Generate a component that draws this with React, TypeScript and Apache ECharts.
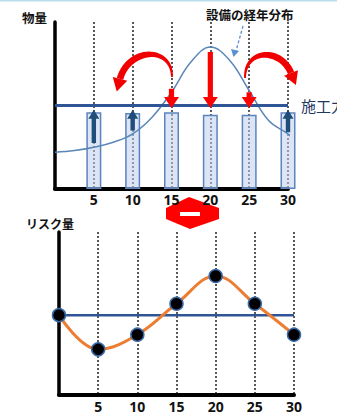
import React, { useEffect, useRef } from 'react';
import * as echarts from 'echarts';

// ---- data ----
const tickValues = [5, 10, 15, 20, 25, 30];
const barX = [5, 10, 15, 20, 25, 30];
const barValues = [46, 45.5, 46, 44.5, 44.5, 46];
const capacity = 50;
const curveX = [0, 2.5, 5, 7.5, 10, 12.5, 15, 17.5, 20, 22.5, 25, 27.5, 30, 30.8];
const curveY = [22, 23, 25, 28, 33, 43, 58, 76, 85, 77, 59, 41, 33, 29];
const upArrowX = [5, 10, 30];
const upArrowFrom = [27.5, 35, 34];
const upArrowTo = [47.5, 47.5, 47.5];
const downArrowX = [15, 20, 25];
const downArrowFrom = [60, 82, 58];
const downArrowTo = [48.5, 48.5, 48.5];
// shift arcs: start, ctrl1, ctrl2, end (data units of upper chart)
const shiftArcs = [
  [15.06, 67.1, 15.06, 86.2, 9.4, 84.4, 8.37, 65.9],
  [24.46, 66.5, 24.46, 84.4, 29.1, 84.4, 30.39, 69.5],
];
const riskX = [0, 5, 10, 15, 20, 25, 30];
const riskValues = [49, 28, 37, 56, 73, 56, 37];
const riskBase = 49;

const JP = '"Noto Sans CJK JP", "Noto Sans", sans-serif';
const NUM = '"Noto Sans", "DejaVu Sans", sans-serif';

function arrowItem(color: string, stemHalf: number, headHalf: number, headLen: number) {
  return (params: any, api: any) => {
    const x = api.value(0);
    const p0 = api.coord([x, api.value(1)]);
    const p1 = api.coord([x, api.value(2)]);
    const dir = p1[1] > p0[1] ? 1 : -1;
    const cx = p0[0];
    const baseY = p1[1] - dir * headLen;
    return {
      type: 'polygon',
      shape: {
        points: [
          [cx - stemHalf, p0[1]],
          [cx + stemHalf, p0[1]],
          [cx + stemHalf, baseY],
          [cx + headHalf, baseY],
          [cx, p1[1]],
          [cx - headHalf, baseY],
          [cx - stemHalf, baseY],
        ],
      },
      style: { fill: color },
    };
  };
}

function arcItem(params: any, api: any) {
  const S = api.coord([api.value(0), api.value(1)]);
  const C1 = api.coord([api.value(2), api.value(3)]);
  const C2 = api.coord([api.value(4), api.value(5)]);
  const E = api.coord([api.value(6), api.value(7)]);
  const n = 30;
  const left: number[][] = [];
  const right: number[][] = [];
  for (let i = 0; i <= n; i++) {
    const t = i / n;
    const a = (1 - t) * (1 - t) * (1 - t);
    const b = 3 * (1 - t) * (1 - t) * t;
    const c = 3 * (1 - t) * t * t;
    const d = t * t * t;
    const px = a * S[0] + b * C1[0] + c * C2[0] + d * E[0];
    const py = a * S[1] + b * C1[1] + c * C2[1] + d * E[1];
    const dx = 3 * (1 - t) * (1 - t) * (C1[0] - S[0]) + 6 * (1 - t) * t * (C2[0] - C1[0]) + 3 * t * t * (E[0] - C2[0]);
    const dy = 3 * (1 - t) * (1 - t) * (C1[1] - S[1]) + 6 * (1 - t) * t * (C2[1] - C1[1]) + 3 * t * t * (E[1] - C2[1]);
    const len = Math.sqrt(dx * dx + dy * dy) || 1;
    const nx = -dy / len;
    const ny = dx / len;
    const w = 0.9 + 2.4 * Math.min(1, t * 1.6);
    left.push([px + nx * w, py + ny * w]);
    right.push([px - nx * w, py - ny * w]);
  }
  const ddx = E[0] - C2[0];
  const ddy = E[1] - C2[1];
  const dl = Math.sqrt(ddx * ddx + ddy * ddy) || 1;
  const ux = ddx / dl;
  const uy = ddy / dl;
  const hx = -uy;
  const hy = ux;
  const head = [
    [E[0] + hx * 7.5, E[1] + hy * 7.5],
    [E[0] + ux * 13, E[1] + uy * 13],
    [E[0] - hx * 7.5, E[1] - hy * 7.5],
  ];
  return {
    type: 'group',
    children: [
      { type: 'polygon', shape: { points: left.concat(right.reverse()) }, style: { fill: '#f00000' } },
      { type: 'polygon', shape: { points: head }, style: { fill: '#f00000' } },
    ],
  };
}

export default function App() {
  const ref = useRef<HTMLDivElement>(null);
  useEffect(() => {
    if (!ref.current) return;
    const chart = echarts.init(ref.current, undefined, { renderer: 'svg' });
    const xAxisBase = (gridIndex: number, margin: number) => ({
      gridIndex,
      type: 'value',
      min: 0,
      max: 30,
      interval: 5,
      axisLine: { show: true, onZero: false, lineStyle: { color: '#000', width: 4 } },
      axisTick: { show: false },
      axisLabel: {
        margin,
        color: '#111',
        fontSize: 14,
        fontWeight: 'bold',
        fontFamily: NUM,
        formatter: (v: number) => (tickValues.indexOf(v) >= 0 ? String(v) : ''),
      },
      splitLine: { show: true, lineStyle: { type: [2, 2], color: '#222', width: 1.5 } },
    });
    const yAxisBase = (gridIndex: number) => ({
      gridIndex,
      type: 'value',
      min: 0,
      max: 100,
      axisLine: { show: true, onZero: false, lineStyle: { color: '#000', width: 3.5 } },
      axisTick: { show: false },
      axisLabel: { show: false },
      splitLine: { show: false },
    });
    chart.setOption({
      animation: false,
      backgroundColor: '#fff',
      grid: [
        { left: 55, top: 22, width: 233, height: 167 },
        { left: 59, top: 232, width: 235, height: 166 },
      ],
      xAxis: [xAxisBase(0, 3), xAxisBase(1, 4)],
      yAxis: [yAxisBase(0), yAxisBase(1)],
      graphic: [
        { type: 'rect', left: 0, top: 0, shape: { width: 337, height: 1.5 }, style: { fill: '#b9dfea' } },
        { type: 'text', left: 22, top: 11, style: { text: '物量', font: `bold 12.5px ${JP}`, fill: '#111' } },
        { type: 'text', left: 26, top: 217, style: { text: 'リスク量', font: `bold 12px ${JP}`, fill: '#111' } },
        { type: 'text', left: 206, top: 8, style: { text: '設備の経年分布', font: `bold 12.5px ${JP}`, fill: '#111' } },
        {
          type: 'line',
          shape: { x1: 243, y1: 26, x2: 236, y2: 51 },
          style: { stroke: '#5b8fd0', lineWidth: 1.3, lineDash: [3, 2] },
        },
        {
          type: 'polygon',
          shape: { points: [[231, 49], [233.5, 57], [239, 51]] },
          style: { fill: '#5b8fd0' },
        },
        {
          type: 'polygon',
          shape: {
            points: [[189, 197], [219, 208], [219, 219], [190, 229], [166, 219], [166, 208]],
          },
          style: { fill: '#ff0000' },
        },
        { type: 'rect', shape: { x: 180, y: 212, width: 20, height: 4 }, style: { fill: '#ffffff' } },
      ],
      series: [
        {
          type: 'bar',
          xAxisIndex: 0,
          yAxisIndex: 0,
          barWidth: 15,
          clip: false,
          data: barX.map((x, i) => [x, barValues[i]]),
          itemStyle: { color: 'rgba(190,208,236,0.55)', borderColor: '#5b84be', borderWidth: 1.5 },
          z: 2,
        },
        {
          type: 'line',
          xAxisIndex: 0,
          yAxisIndex: 0,
          smooth: 0.4,
          symbol: 'none',
          clip: false,
          data: curveX.map((x, i) => [x, curveY[i]]),
          lineStyle: { color: '#5a86b8', width: 1.5 },
          z: 3,
        },
        {
          type: 'line',
          xAxisIndex: 0,
          yAxisIndex: 0,
          symbol: 'none',
          data: [[0, capacity], [30, capacity]],
          lineStyle: { color: '#2f5597', width: 3 },
          endLabel: {
            show: true,
            formatter: '施工力',
            distance: 13,
            color: '#1f3864',
            fontSize: 15,
            fontFamily: JP,
          },
          z: 4,
        },
        {
          type: 'custom',
          xAxisIndex: 0,
          yAxisIndex: 0,
          encode: { x: 0, y: [1, 2] },
          data: upArrowX.map((x, i) => [x, upArrowFrom[i], upArrowTo[i]]),
          renderItem: arrowItem('#1f4e79', 2.2, 5.5, 9),
          z: 5,
        },
        {
          type: 'custom',
          xAxisIndex: 0,
          yAxisIndex: 0,
          encode: { x: 0, y: [1, 2] },
          data: downArrowX.map((x, i) => [x, downArrowFrom[i], downArrowTo[i]]),
          renderItem: arrowItem('#ff0000', 2.6, 7.5, 11),
          z: 6,
        },
        {
          type: 'custom',
          xAxisIndex: 0,
          yAxisIndex: 0,
          encode: { x: [0, 2, 4, 6], y: [1, 3, 5, 7] },
          data: shiftArcs,
          renderItem: arcItem,
          z: 6,
        },
        {
          type: 'line',
          xAxisIndex: 1,
          yAxisIndex: 1,
          symbol: 'none',
          data: [[0, riskBase], [30, riskBase]],
          lineStyle: { color: '#2f5597', width: 2.5 },
          z: 3,
        },
        {
          type: 'line',
          xAxisIndex: 1,
          yAxisIndex: 1,
          smooth: 0.4,
          clip: false,
          symbol: 'circle',
          symbolSize: 13,
          data: riskX.map((x, i) => [x, riskValues[i]]),
          lineStyle: { color: '#ed7d31', width: 3 },
          itemStyle: { color: '#000', borderColor: '#3a6aa8', borderWidth: 1.5 },
          z: 5,
        },
      ],
    });
    return () => chart.dispose();
  }, []);
  return (
    <div
      ref={ref}
      style={{ position: 'absolute', left: 0, top: 0, width: 337, height: 413 }}
    />
  );
}
